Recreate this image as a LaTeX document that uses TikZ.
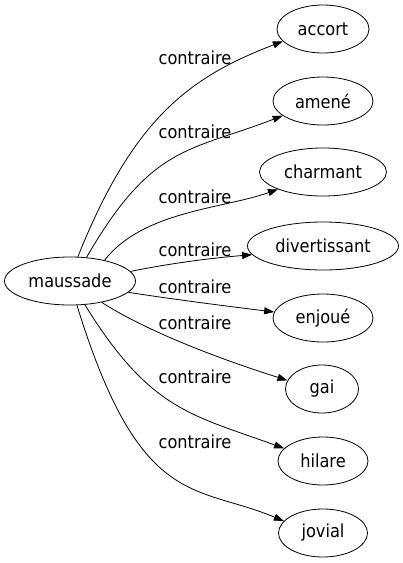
\documentclass[tikz,border=0pt]{standalone}
\usepackage{fontspec}
\setmainfont{DejaVu Sans Condensed}
\usetikzlibrary{arrows.meta,shapes.geometric}

\tikzset{
  word/.style={draw, ellipse, inner sep=0pt, minimum height=48pt, line width=0.8pt},
  rel/.style={line width=0.8pt, -{Triangle[length=10pt,width=7pt]}},
  lbl/.style={inner sep=0pt},
}

\begin{document}
\begin{tikzpicture}[x=1pt, y=-1pt, font=\fontsize{18}{21}\selectfont]
\useasboundingbox (0,0) rectangle (403,563);
% words
\node[word, minimum width=131pt] (maussade) at (70,281) {maussade};
\node[word, minimum width=92pt] (accort) at (323,29) {accort};
\node[word, minimum width=100pt] (amene) at (323,101) {amené};
\node[word, minimum width=127pt] (charmant) at (323,172) {charmant};
\node[word, minimum width=151pt] (divertissant) at (323,246) {divertissant};
\node[word, minimum width=100pt] (enjoue) at (323,318) {enjoué};
\node[word, minimum width=73pt] (gai) at (322,389) {gai};
\node[word, minimum width=90pt] (hilare) at (323,461) {hilare};
\node[word, minimum width=89pt] (jovial) at (323,533) {jovial};
% edges
\draw[rel] (maussade.72) .. controls (133.5,117.5) and (190,77) .. (accort.197);
\draw[rel] (maussade.55) .. controls (152,144) and (190,151.5) .. (amene.200);
\draw[rel] (maussade.31) .. controls (143,211) and (222,209) .. (charmant.201);
\draw[rel] (maussade.9) .. controls (172,263) and (212,258) .. (divertissant.187);
\draw[rel] (maussade.-11) .. controls (178,300) and (226,306) .. (enjoue.173);
\draw[rel] (maussade.-34) .. controls (153,335) and (231,362.5) .. (gai.166);
\draw[rel] (maussade.-58) .. controls (150,410) and (190.6,414.5) .. (hilare.162);
\draw[rel] (maussade.-74) .. controls (140,510) and (195,484) .. (jovial.163);
% labels
\node[lbl] (l-accort) at (195,58) {contraire};
\node[lbl] (l-amene) at (195,132) {contraire};
\node[lbl] (l-charmant) at (195,197) {contraire};
\node[lbl] (l-divertissant) at (195,250) {contraire};
\node[lbl] (l-enjoue) at (195,287) {contraire};
\node[lbl] (l-gai) at (195,323) {contraire};
\node[lbl] (l-hilare) at (195,377) {contraire};
\node[lbl] (l-jovial) at (195,442) {contraire};
\end{tikzpicture}
\end{document}
